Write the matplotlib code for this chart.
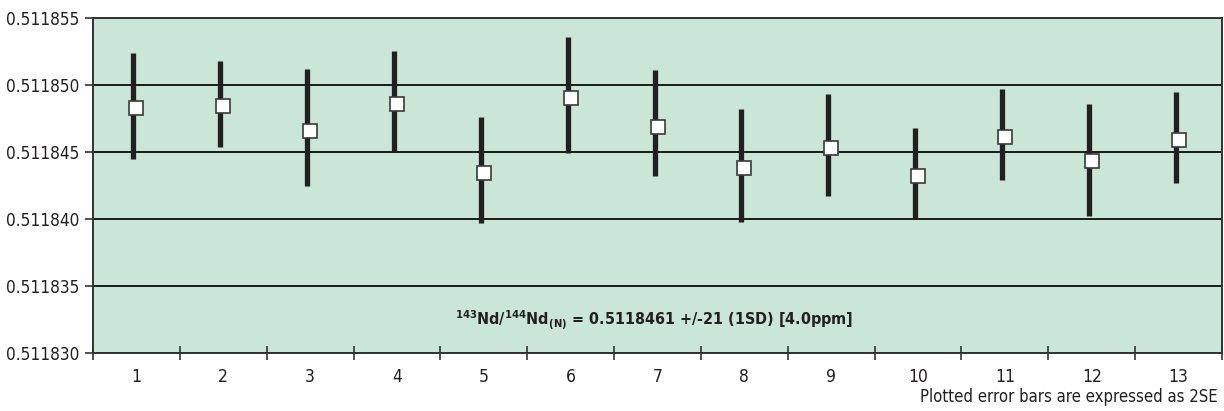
import numpy as np
import matplotlib.pyplot as plt
from matplotlib.transforms import ScaledTranslation

plt.rcParams['font.family'] = ['DejaVu Sans']
plt.rcParams['font.stretch'] = 'condensed'
plt.rcParams['mathtext.fontset'] = 'custom'
plt.rcParams['mathtext.rm'] = 'DejaVu Sans:weight=bold:stretch=condensed'
plt.rcParams['mathtext.bf'] = 'DejaVu Sans:weight=bold:stretch=condensed'
plt.rcParams['mathtext.it'] = 'DejaVu Sans:weight=bold:stretch=condensed'

runs = list(range(1, 14))
ratio = [0.5118483, 0.5118484, 0.5118466, 0.5118486, 0.5118434, 0.5118490, 0.5118469,
         0.5118438, 0.5118453, 0.5118432, 0.5118461, 0.5118443, 0.5118459]
bar_top = [0.5118524, 0.5118518, 0.5118512, 0.5118525, 0.5118476, 0.5118536, 0.5118511,
           0.5118482, 0.5118493, 0.5118468, 0.5118497, 0.5118486, 0.5118495]
bar_bot = [0.5118445, 0.5118454, 0.5118425, 0.5118450, 0.5118397, 0.5118449, 0.5118432,
           0.5118398, 0.5118417, 0.5118400, 0.5118429, 0.5118402, 0.5118427]
yticks = [0.511830, 0.511835, 0.511840, 0.511845, 0.511850, 0.511855]

fig = plt.figure(figsize=(12.24, 4.11), dpi=100)
ax = fig.add_axes([93 / 1224, 58 / 411, 1129 / 1224, 335 / 411])
ax.set_facecolor('#c9e6d6')

# error bars sit a few pixels left of the markers, like the original
shift = ax.transData + ScaledTranslation(-0.03, 0, fig.dpi_scale_trans)
ax.vlines(runs, bar_bot, bar_top, color='#231f20', linewidth=3.8, transform=shift, zorder=3)
ax.plot(runs, ratio, linestyle='none', marker='s', markersize=9.5,
        markerfacecolor='white', markeredgecolor='#3a3a3a', markeredgewidth=1.2, zorder=4)

ax.set_xlim(0.5, 13.5)
ax.set_ylim(0.511830, 0.511855)
ax.set_yticks(yticks)
ax.set_yticklabels([f"{v:.6f}" for v in yticks], fontsize=12.3, color='#231f20')
ax.set_xticks(runs)
ax.set_xticklabels([str(r) for r in runs], fontsize=12.5, color='#231f20')
ax.set_xticks(np.arange(0.5, 14, 1), minor=True)
ax.tick_params(axis='x', which='major', length=0, pad=11)
ax.tick_params(axis='x', which='minor', length=10, direction='inout', width=1.2, color='#333333')
ax.tick_params(axis='y', length=6, width=1.2, color='#333333', pad=4)

ax.grid(axis='y', color='#1a1a1a', linewidth=1.4)
ax.set_axisbelow(True)
for side in ['left', 'right', 'bottom', 'top']:
    ax.spines[side].set_color('#333333')
    ax.spines[side].set_linewidth(1.4)

ax.text(0.497, 0.098,
        r"$^{143}$Nd/$^{144}$Nd$_{\mathrm{(N)}}$ = 0.5118461 +/-21 (1SD) [4.0ppm]",
        transform=ax.transAxes, ha='center', va='center',
        fontsize=11.5, fontweight='bold', color='#231f20')

fig.text(1218 / 1224, 14 / 411, "Plotted error bars are expressed as 2SE",
         ha='right', va='center', fontsize=12, color='#231f20')

fig.savefig("out.png", dpi=100)
